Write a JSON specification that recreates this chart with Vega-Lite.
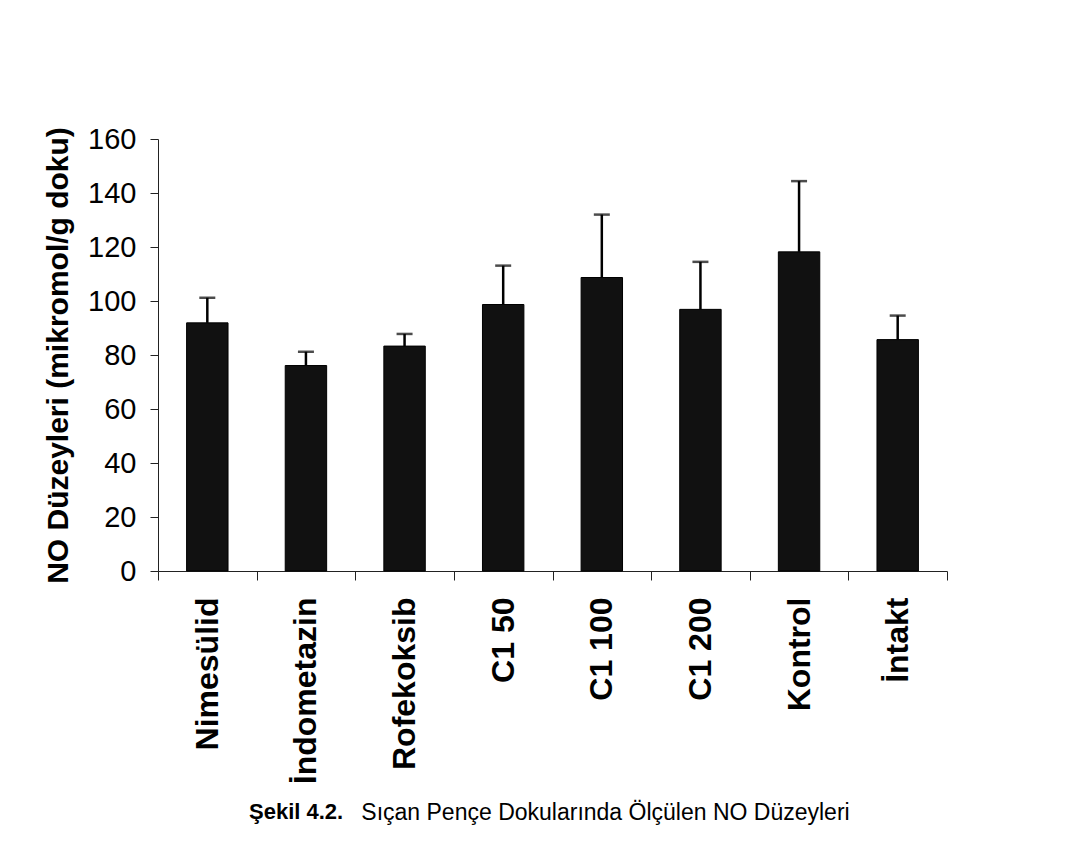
{
  "$schema": "https://vega.github.io/schema/vega-lite/v6.json",
  "autosize": "none",
  "padding": {"left": 158, "top": 139, "right": 118, "bottom": 274},
  "width": 789,
  "height": 432,
  "background": "white",
  "config": {
    "font": "Liberation Sans",
    "view": {"stroke": null}
  },
  "title": {
    "text": "Şekil 4.2.",
    "orient": "bottom",
    "anchor": "start",
    "frame": "group",
    "dx": 91,
    "dy": -5,
    "offset": 0,
    "baseline": "alphabetic",
    "fontSize": 22,
    "fontWeight": "bold",
    "color": "black"
  },
  "data": {
    "values": [
      {"grup": "Nimesülid", "ortalama": 91.9, "ust": 101.2},
      {"grup": "İndometazin", "ortalama": 76.1, "ust": 81.2},
      {"grup": "Rofekoksib", "ortalama": 83.3, "ust": 87.8},
      {"grup": "C1 50", "ortalama": 98.7, "ust": 113.1},
      {"grup": "C1 100", "ortalama": 108.7, "ust": 132.0},
      {"grup": "C1 200", "ortalama": 96.9, "ust": 114.5},
      {"grup": "Kontrol", "ortalama": 118.2, "ust": 144.4},
      {"grup": "İntakt", "ortalama": 85.7, "ust": 94.6}
    ]
  },
  "encoding": {
    "x": {
      "field": "grup",
      "type": "nominal",
      "sort": null,
      "scale": {"paddingInner": 0, "paddingOuter": 0},
      "axis": {
        "title": "Sıçan Pençe Dokularında Ölçülen NO Düzeyleri",
        "titleFontSize": 23,
        "titleFontWeight": "normal",
        "titleColor": "black",
        "titleX": 447,
        "titleY": 248,
        "titleAlign": "center",
        "titleBaseline": "alphabetic",
        "labelAngle": 270,
        "labelAlign": "right",
        "labelBaseline": "middle",
        "labelFontSize": 32,
        "labelFontWeight": "bold",
        "labelColor": "black",
        "labelPadding": 17,
        "labelLimit": 400,
        "tickBand": "extent",
        "tickSize": 9,
        "tickColor": "#222",
        "domainColor": "#222",
        "labelOverlap": false
      }
    }
  },
  "layer": [
    {
      "mark": {"type": "bar", "color": "#111", "stroke": "black", "strokeWidth": 1, "width": {"band": 0.42}},
      "encoding": {
        "y": {
          "field": "ortalama",
          "type": "quantitative",
          "scale": {"domain": [0, 160], "nice": false},
          "axis": {
            "values": [0, 20, 40, 60, 80, 100, 120, 140, 160],
            "grid": false,
            "title": "NO Düzeyleri (mikromol/g doku)",
            "titleFontSize": 30,
            "titleFontWeight": "bold",
            "titleColor": "black",
            "titleAngle": 270,
            "titleX": -100,
            "titleY": 216,
            "titleAlign": "center",
            "titleBaseline": "middle",
            "labelFontSize": 29,
            "labelColor": "black",
            "labelPadding": 14,
            "tickSize": 8,
            "tickColor": "#222",
            "domainColor": "#222"
          }
        }
      }
    },
    {
      "mark": {"type": "rule", "color": "black", "strokeWidth": 2.5},
      "encoding": {
        "y": {"field": "ortalama", "type": "quantitative"},
        "y2": {"field": "ust"}
      }
    },
    {
      "mark": {"type": "tick", "color": "black", "size": 16, "thickness": 2.5, "orient": "horizontal"},
      "encoding": {
        "y": {"field": "ust", "type": "quantitative"}
      }
    }
  ]
}
